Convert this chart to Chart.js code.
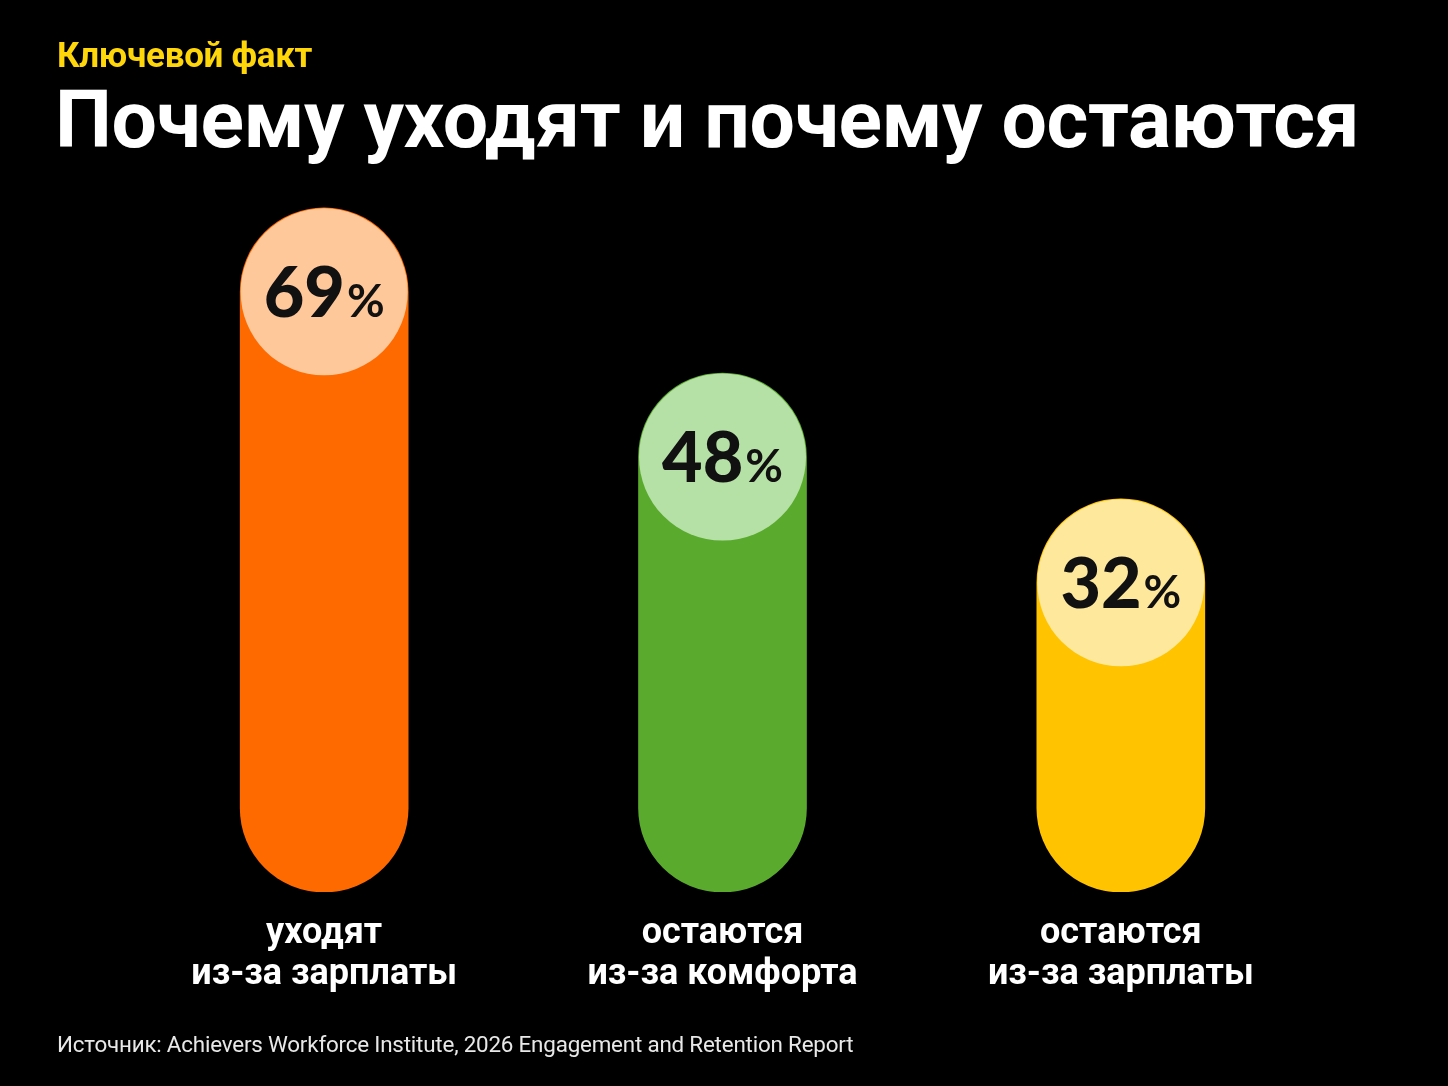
<!DOCTYPE html>
<html lang="ru">
<head>
<meta charset="utf-8">
<title>Почему уходят и почему остаются</title>
<script src="https://cdn.jsdelivr.net/npm/chart.js@4.4.1/dist/chart.umd.min.js"></script>
<style>
  html, body { margin: 0; padding: 0; background: #000; }
  body { width: 1448px; height: 1086px; position: relative; overflow: hidden; font-family: Roboto, 'Noto Sans', sans-serif; }
  .kicker { position: absolute; left: 57px; top: 35px; color: #ffd60a; font-weight: 700; font-size: 35px; letter-spacing: -0.3px; }
  .title  { position: absolute; left: 55px; top: 72px; color: #fff; font-weight: 700; font-size: 80.5px; letter-spacing: -0.5px; white-space: nowrap; }
  .source { position: absolute; left: 57px; top: 1031px; color: #e8e8e8; font-size: 22.4px; letter-spacing: -0.2px; }
  #wrap { position: absolute; left: 0; top: 0; width: 1448px; height: 1086px; }
</style>
</head>
<body>
<div id="wrap"><canvas id="pillChart"></canvas></div>
<div class="kicker">Ключевой факт</div>
<div class="title">Почему уходят и почему остаются</div>
<div class="source">Источник: Achievers Workforce Institute, 2026 Engagement and Retention Report</div>

<script>
// data
const categories = [
  ['уходят', 'из-за зарплаты'],
  ['остаются', 'из-за комфорта'],
  ['остаются', 'из-за зарплаты']
];
const shares = [69, 48, 32];

const barColors  = ['#ff6a00', '#5aaa2e', '#ffc300'];
const capColors  = ['#ffc89b', '#b6e1a6', '#fde89c'];

// the pills start a little below zero in the original
const BASE = -18;

// cap_circles
const capPlugin = {
  id: 'caps',
  afterDatasetsDraw(chart) {
    const { ctx } = chart;
    const meta = chart.getDatasetMeta(0);
    meta.data.forEach((bar, i) => {
      const r  = bar.width / 2;
      const cx = bar.x, cy = bar.y + r;
      ctx.save();
      ctx.beginPath();
      ctx.arc(cx, cy, r - 0.5, 0, Math.PI * 2);
      ctx.fillStyle = capColors[i];
      ctx.fill();

      const num = String(shares[i]), pct = '%';
      ctx.fillStyle = '#111';
      ctx.textBaseline = 'alphabetic';
      ctx.font = '900 70px Lato, sans-serif';
      const wn = ctx.measureText(num).width;
      ctx.font = '700 46px Lato, sans-serif';
      const wp = ctx.measureText(pct).width;
      const x0 = cx - (wn + 2 + wp) / 2;
      const base = cy + 25;
      ctx.textAlign = 'left';
      ctx.font = '900 70px Lato, sans-serif';
      ctx.fillText(num, x0, base);
      ctx.font = '700 46px Lato, sans-serif';
      ctx.fillText(pct, x0 + wn + 2, base);
      ctx.restore();
    });
  }
};

new Chart(document.getElementById('pillChart'), {
  type: 'bar',
  data: {
    labels: categories,
    datasets: [{
      data: shares,
      base: BASE,
      backgroundColor: barColors,
      borderRadius: 200,
      borderSkipped: false,
      barThickness: 168
    }]
  },
  options: {
    responsive: true, maintainAspectRatio: false,
    animation: false,
    layout: { padding: { left: 125, right: 128, top: 200, bottom: 0 } },
    plugins: { legend: { display: false }, tooltip: { enabled: false } },
    scales: {
      y: { display: false, min: BASE, max: 70 },
      x: {
        grid: { display: false }, border: { display: false },
        ticks: { color: '#fff', padding: 13, font: { family: 'Roboto', weight: '700', size: 36, lineHeight: 1.14 }, maxRotation: 0 },
        afterFit: s => { s.height = 194; }
      }
    }
  },
  plugins: [capPlugin]
});
</script>
</body>
</html>
